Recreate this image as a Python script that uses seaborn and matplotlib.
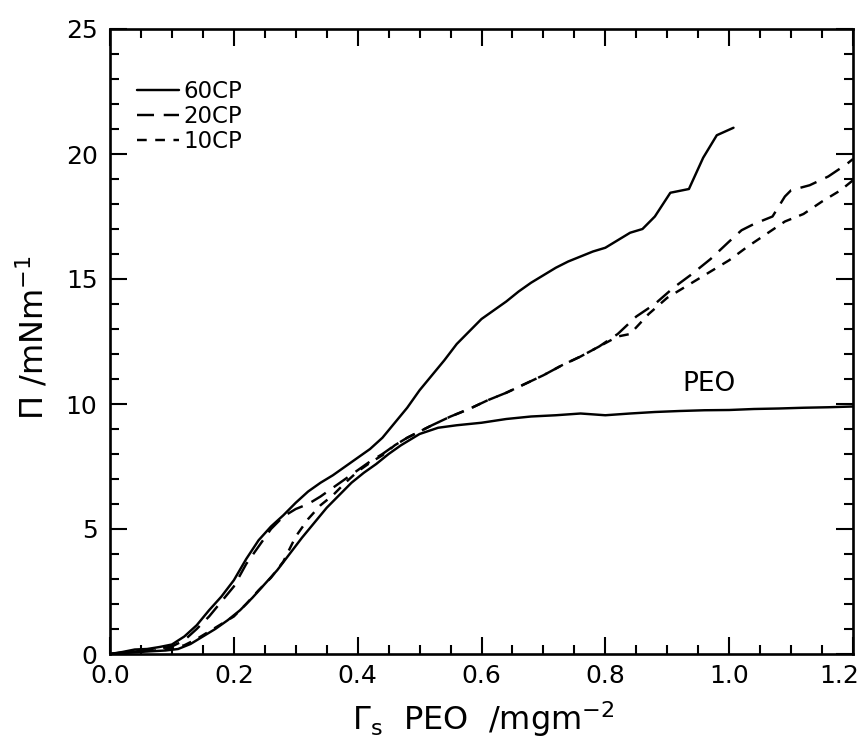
import numpy as np
import pandas as pd
import matplotlib
matplotlib.use("Agg")
import matplotlib.pyplot as plt
import matplotlib.transforms as mtransforms
from matplotlib.ticker import MultipleLocator
import seaborn as sns

# ---------------- data ----------------
x_60cp = [0.00, 0.02, 0.04, 0.06, 0.08, 0.10, 0.12, 0.14, 0.16, 0.18, 0.20, 0.22, 0.24,
          0.26, 0.28, 0.30, 0.32, 0.34, 0.36, 0.38, 0.40, 0.42, 0.44, 0.46, 0.48, 0.50,
          0.52, 0.54, 0.56, 0.58, 0.60, 0.62, 0.64, 0.66, 0.68, 0.70, 0.72, 0.74, 0.76,
          0.78, 0.80, 0.82, 0.84, 0.86, 0.88, 0.905, 0.935, 0.958, 0.98, 1.007]
y_60cp = [0.00, 0.08, 0.18, 0.20, 0.28, 0.38, 0.70, 1.15, 1.75, 2.30, 2.95, 3.80, 4.55,
          5.10, 5.55, 6.05, 6.50, 6.85, 7.15, 7.50, 7.85, 8.20, 8.65, 9.25, 9.85, 10.55,
          11.15, 11.75, 12.40, 12.90, 13.40, 13.75, 14.10, 14.50, 14.85, 15.15, 15.45, 15.70, 15.90,
          16.10, 16.25, 16.55, 16.85, 17.00, 17.50, 18.45, 18.60, 19.85, 20.75, 21.05]

x_peo = [0.00, 0.03, 0.06, 0.09, 0.11, 0.13, 0.15, 0.17, 0.19, 0.21, 0.23, 0.25, 0.27,
         0.29, 0.31, 0.33, 0.35, 0.37, 0.39, 0.41, 0.43, 0.45, 0.47, 0.50, 0.53, 0.56,
         0.60, 0.64, 0.68, 0.72, 0.76, 0.80, 0.84, 0.88, 0.92, 0.96, 1.00, 1.04, 1.08,
         1.12, 1.16, 1.20]
y_peo = [0.00, 0.05, 0.10, 0.14, 0.20, 0.40, 0.70, 1.00, 1.35, 1.75, 2.25, 2.80, 3.35,
         4.00, 4.65, 5.25, 5.85, 6.35, 6.85, 7.25, 7.60, 8.00, 8.35, 8.80, 9.05, 9.15,
         9.25, 9.40, 9.50, 9.55, 9.62, 9.55, 9.62, 9.68, 9.72, 9.75, 9.76, 9.80, 9.82,
         9.85, 9.87, 9.90]

x_20cp = [0.00, 0.04, 0.08, 0.10, 0.12, 0.14, 0.16, 0.18, 0.20, 0.22, 0.24, 0.26, 0.28,
          0.30, 0.32, 0.34, 0.36, 0.38, 0.40, 0.42, 0.44, 0.46, 0.48, 0.50, 0.52, 0.55,
          0.58, 0.61, 0.64, 0.67, 0.70, 0.73, 0.76, 0.79, 0.82, 0.85, 0.88, 0.91, 0.94,
          0.97, 1.00, 1.02, 1.04, 1.07, 1.09, 1.10, 1.13, 1.16, 1.19, 1.20]
y_20cp = [0.00, 0.12, 0.22, 0.30, 0.55, 1.00, 1.50, 2.10, 2.70, 3.60, 4.30, 5.00, 5.50,
          5.80, 6.00, 6.30, 6.65, 7.00, 7.35, 7.70, 8.00, 8.35, 8.65, 8.90, 9.15, 9.50,
          9.80, 10.15, 10.45, 10.80, 11.15, 11.55, 11.90, 12.30, 12.80, 13.50, 14.00, 14.65, 15.20,
          15.80, 16.50, 16.95, 17.20, 17.50, 18.30, 18.55, 18.75, 19.10, 19.60, 19.80]

x_10cp = [0.00, 0.04, 0.08, 0.10, 0.12, 0.14, 0.16, 0.18, 0.20, 0.22, 0.24, 0.26, 0.28,
          0.30, 0.32, 0.34, 0.36, 0.38, 0.40, 0.42, 0.44, 0.46, 0.48, 0.50, 0.52, 0.55,
          0.58, 0.61, 0.64, 0.67, 0.70, 0.73, 0.76, 0.79, 0.82, 0.84, 0.87, 0.90, 0.94,
          0.97, 1.00, 1.03, 1.06, 1.09, 1.12, 1.15, 1.18, 1.20]
y_10cp = [0.00, 0.10, 0.15, 0.22, 0.35, 0.60, 0.90, 1.20, 1.50, 2.00, 2.55, 3.05, 3.70,
          4.70, 5.40, 5.95, 6.35, 6.85, 7.30, 7.65, 7.95, 8.35, 8.65, 8.90, 9.15, 9.50,
          9.80, 10.15, 10.45, 10.80, 11.15, 11.55, 11.90, 12.30, 12.70, 12.80, 13.60, 14.25, 14.85,
          15.30, 15.75, 16.30, 16.80, 17.30, 17.60, 18.10, 18.55, 18.95]

x_ticks = [0.0, 0.2, 0.4, 0.6, 0.8, 1.0, 1.2]
y_ticks = [0, 5, 10, 15, 20, 25]

series = [("60CP", x_60cp, y_60cp, "-"),
          ("20CP", x_20cp, y_20cp, (0, (7, 4))),
          ("10CP", x_10cp, y_10cp, (0, (4, 3.5))),
          ("PEO", x_peo, y_peo, "-")]

# ---------------- style ----------------
sns.set_style("ticks")
plt.rcParams["font.family"] = ["DejaVu Sans"]
plt.rcParams["mathtext.default"] = "regular"
plt.rcParams["text.color"] = "black"
plt.rcParams["axes.labelcolor"] = "black"
plt.rcParams["xtick.color"] = "black"
plt.rcParams["ytick.color"] = "black"

fig = plt.figure(figsize=(8.61, 7.38), dpi=100)
ax = fig.add_axes([110 / 861, 1 - 654 / 738, 743 / 861, 625 / 738])

for name, xs, ys, ls in series:
    df = pd.DataFrame({"x": xs, "y": ys})
    sns.lineplot(data=df, x="x", y="y", ax=ax, color="black", linewidth=1.75,
                 linestyle=ls, sort=False, estimator=None,
                 label=name if name != "PEO" else "_nolegend_")

ax.set_xlim(0, 1.2)
ax.set_ylim(0, 25)
ax.set_xticks(x_ticks)
ax.set_xticklabels([f"{v:.1f}" for v in x_ticks])
ax.set_yticks(y_ticks)
ax.set_yticklabels([str(v) for v in y_ticks])
ax.xaxis.set_minor_locator(MultipleLocator(0.05))
ax.yaxis.set_minor_locator(MultipleLocator(1))
ax.tick_params(which="both", direction="in", top=True, right=True, width=1.5,
               color="black", labelcolor="black")
ax.tick_params(which="major", length=12, labelsize=18)
ax.tick_params(which="minor", length=6.5)
ax.tick_params(axis="x", which="major", pad=7)
ax.tick_params(axis="y", which="major", pad=9)
for sp in ax.spines.values():
    sp.set_linewidth(1.9)
    sp.set_color("black")

# keep the last x tick label inside the figure, as in the reference
last = ax.get_xticklabels()[-1]
last.set_horizontalalignment("right")
last.set_transform(last.get_transform() +
                   mtransforms.ScaledTranslation(6 / 100, 0, fig.dpi_scale_trans))

ax.set_xlabel("Γ$_s$  PEO  /mgm$^{-2}$", fontsize=23, color="black")
ax.set_ylabel("Π /mNm$^{-1}$", fontsize=23, color="black")
ax.xaxis.set_label_coords(0.503, -0.072)
ax.yaxis.set_label_coords(-0.080, 0.506)

ax.text(0.968, 10.8, "PEO", fontsize=19, ha="center", va="center", color="black")

leg = ax.legend(loc="upper left", bbox_to_anchor=(0.036, 0.918), frameon=False,
                fontsize=16.5, handlelength=1.83, handletextpad=0.22,
                labelspacing=0.09, borderaxespad=0, borderpad=0)
for line in leg.get_lines():
    line.set_linewidth(1.75)
for t in leg.get_texts():
    t.set_color("black")

fig.savefig("out.png", dpi=100)
